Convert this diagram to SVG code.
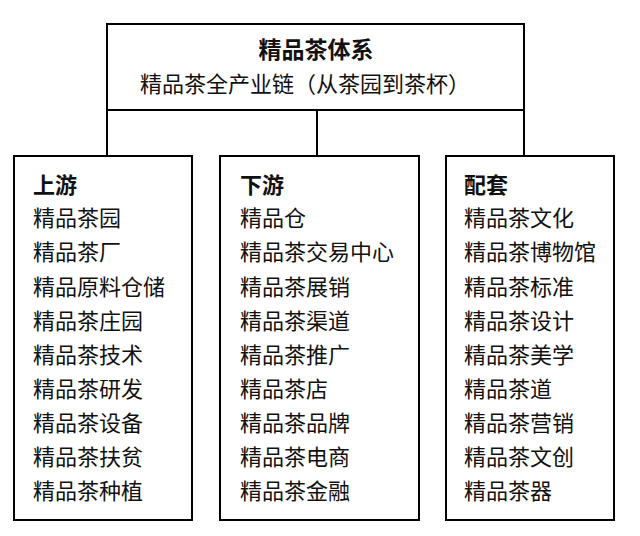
<svg xmlns="http://www.w3.org/2000/svg" width="640" height="536" viewBox="0 0 640 536">
<style>
rect{fill:#fff;stroke:#000;stroke-width:2}
line{stroke:#000;stroke-width:2}
text{font-family:"Noto Sans CJK SC",sans-serif;font-size:22px;fill:#111}
.b{font-weight:bold}
</style>
<rect width="640" height="536" style="stroke:none"/>
<g id="connectors">
<line x1="107" y1="110" x2="107" y2="156"/>
<line x1="317" y1="110" x2="317" y2="156"/>
<line x1="524" y1="110" x2="524" y2="156"/>
</g>
<g id="top">
<rect x="107" y="24" width="417" height="86"/>
<text x="316" y="58" text-anchor="middle" class="b" style="font-size:23px">精品茶体系</text>
<text x="305" y="92" text-anchor="middle">精品茶全产业链（从茶园到茶杯）</text>
</g>
<g id="upstream">
<rect x="14" y="156" width="178" height="364"/>
<text x="33" y="193" class="b">上游</text>
<text x="33" y="226">精品茶园</text>
<text x="33" y="260">精品茶厂</text>
<text x="33" y="295">精品原料仓储</text>
<text x="33" y="329">精品茶庄园</text>
<text x="33" y="363">精品茶技术</text>
<text x="33" y="397">精品茶研发</text>
<text x="33" y="431">精品茶设备</text>
<text x="33" y="465">精品茶扶贫</text>
<text x="33" y="499">精品茶种植</text>
</g>
<g id="downstream">
<rect x="220" y="156" width="199" height="364"/>
<text x="240" y="193" class="b">下游</text>
<text x="240" y="226">精品仓</text>
<text x="240" y="260">精品茶交易中心</text>
<text x="240" y="295">精品茶展销</text>
<text x="240" y="329">精品茶渠道</text>
<text x="240" y="363">精品茶推广</text>
<text x="240" y="397">精品茶店</text>
<text x="240" y="431">精品茶品牌</text>
<text x="240" y="465">精品茶电商</text>
<text x="240" y="499">精品茶金融</text>
</g>
<g id="support">
<rect x="446" y="156" width="168" height="364"/>
<text x="464" y="193" class="b">配套</text>
<text x="464" y="226">精品茶文化</text>
<text x="464" y="260">精品茶博物馆</text>
<text x="464" y="295">精品茶标准</text>
<text x="464" y="329">精品茶设计</text>
<text x="464" y="363">精品茶美学</text>
<text x="464" y="397">精品茶道</text>
<text x="464" y="431">精品茶营销</text>
<text x="464" y="465">精品茶文创</text>
<text x="464" y="499">精品茶器</text>
</g>
</svg>
